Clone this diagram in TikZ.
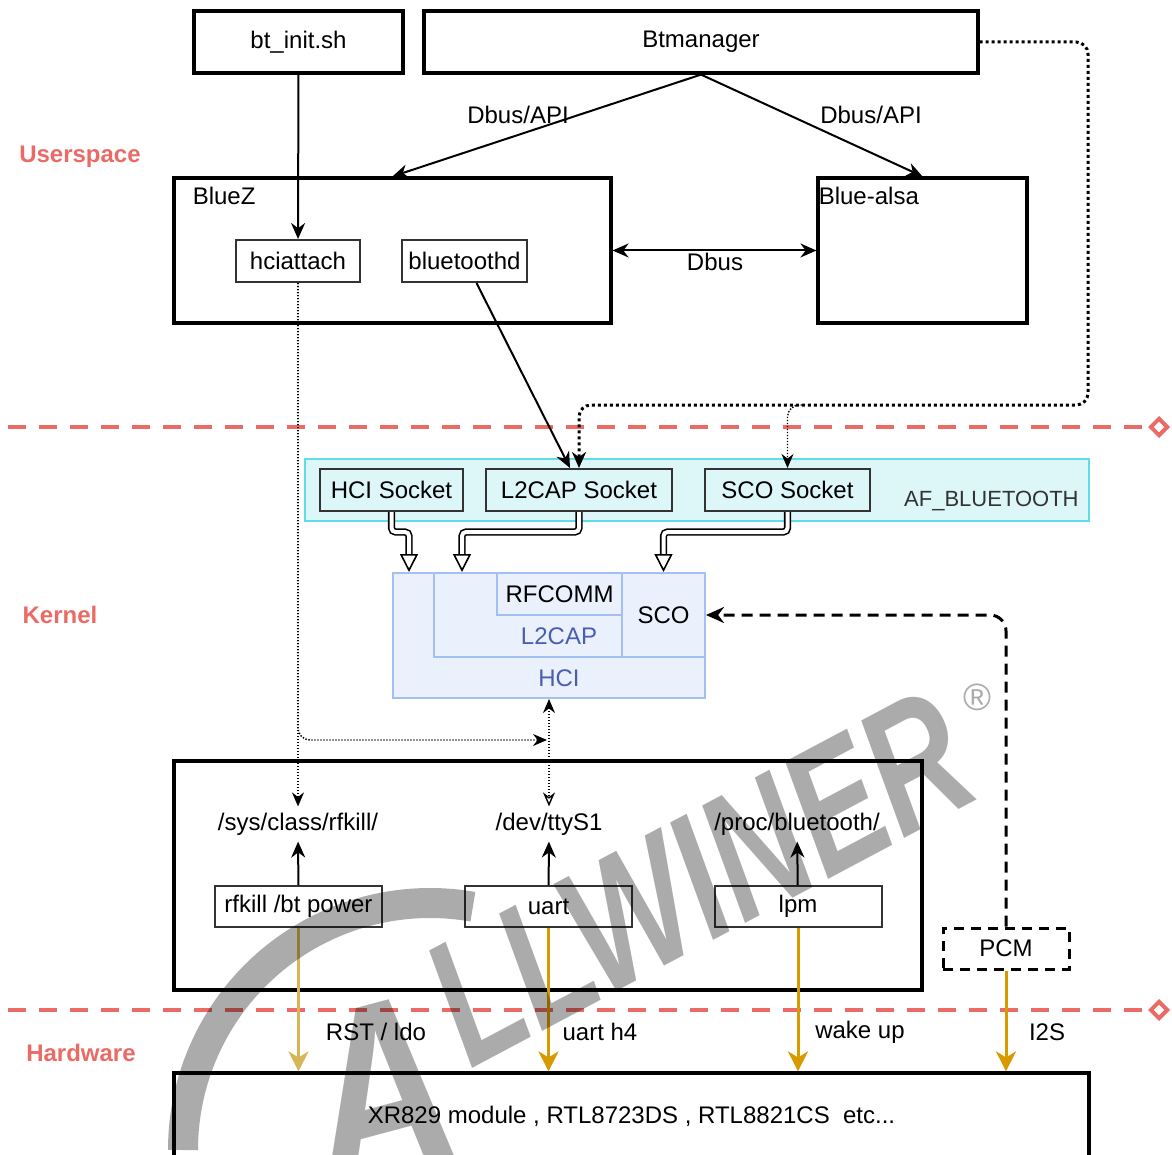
\documentclass[tikz,border=0pt]{standalone}
\usepackage{fontspec}
\setmainfont{Liberation Sans}
\usepackage{xcolor}
\usepackage{graphicx}
\usetikzlibrary{positioning,calc,arrows.meta}

\definecolor{sepred}{HTML}{EA6B66}
\definecolor{afcyan}{HTML}{DDF6F8}
\definecolor{afedge}{HTML}{5FDDE8}
\definecolor{hcifill}{HTML}{EAF1FD}
\definecolor{hciedge}{HTML}{A3C0F5}
\definecolor{hcitext}{HTML}{4A5EB0}
\definecolor{goldA}{HTML}{D6B656}
\definecolor{goldB}{HTML}{D79B00}
\definecolor{boxgray}{HTML}{333333}

\begin{document}
\begin{tikzpicture}[x=0.5pt, y=-0.5pt,
    every node/.style={font=\fontsize{12}{14}\selectfont},
    bigbox/.style={draw, line width=1.6pt, inner sep=0pt},
    inbox/.style={draw=boxgray, line width=1pt, inner sep=0pt, minimum height=21pt},
    sockbox/.style={inbox, fill=afcyan},
    stackbox/.style={draw=hciedge, fill=hcifill, line width=1pt, inner sep=0pt},
    lbl/.style={inner sep=1pt},
    zonelbl/.style={lbl, text=sepred, font=\fontsize{12}{14}\selectfont\bfseries},
    sepline/.style={sepred, line width=2pt, dash pattern=on 9pt off 6.5pt, -{Diamond[open, length=11pt, width=11pt]}},
    arr/.style={line width=1pt, -{Stealth[length=8pt, width=7pt]}},
    golden/.style={goldB, line width=1.5pt, -{Stealth[length=10pt, width=10pt, inset=3pt]}},
    dotbig/.style={line width=1.5pt, dash pattern=on 1.5pt off 1.5pt, rounded corners=6pt, -{Stealth[length=8pt, width=7pt]}},
    dotthin/.style={line width=0.7pt, dash pattern=on 0.7pt off 0.8pt, rounded corners=6pt, -{Stealth[length=7pt, width=6pt]}},
    dashpcm/.style={line width=1.5pt, dash pattern=on 5.5pt off 3.5pt, rounded corners=8pt, -{Stealth[length=9pt, width=8pt]}},
    dblarr/.style={double=white, double distance=2pt, line width=0.8pt, rounded corners=2pt, -{Triangle[open, length=9pt, width=9pt]}},
    wmark/.style={text=black, text opacity=0.33, inner sep=0pt}
]
    \useasboundingbox (0,0) rectangle (1172,1155);

    % layer borders
    \draw[sepline] (8,427) -- (1170,427);
    \draw[sepline] (8,1010) -- (1170,1010);
    \node[zonelbl] (user) at (80,157) {Userspace};
    \node[zonelbl] (kern) at (60,615) {Kernel};
    \node[zonelbl] (hard) at (81,1053) {Hardware};

    % userspace
    \node[bigbox, minimum width=104.5pt, minimum height=31pt] (init) at (298.5,42) {bt\_init.sh};
    \node[bigbox, minimum width=277pt, minimum height=31pt] (btm) at (701,42) {Btmanager};
    \node[bigbox, minimum width=218.5pt, minimum height=72.5pt] (bluez) at (392.5,250.5) {};
    \node[lbl, anchor=north west] (bluezlbl) at ([xshift=9pt, yshift=-4pt]bluez.north west) {BlueZ};
    \node[inbox, minimum width=62pt] (hciatt) at (298,261) {hciattach};
    \node[inbox, minimum width=62.5pt] (btd) at (464.5,261) {bluetoothd};
    \node[bigbox, minimum width=104.5pt, minimum height=72.5pt] (alsa) at (922.5,250.5) {};
    \node[lbl, anchor=north west] (alsalbl) at ([xshift=0pt, yshift=-4pt]alsa.north west) {Blue-alsa};

    \draw[arr] (init) -- (hciatt);
    \draw[arr] (btm.south) -- (bluez.north);
    \draw[arr] (btm.south) -- (alsa.north);
    \node[lbl] (api1) at (518,115) {Dbus/API};
    \node[lbl] (api2) at (871,115) {Dbus/API};
    \draw[arr, {Stealth[length=8pt, width=7pt]}-{Stealth[length=8pt, width=7pt]}] (bluez.east) -- (alsa.west);
    \node[lbl] (dbus) at (715,262) {Dbus};

    % sockets
    \node[draw=afedge, fill=afcyan, line width=1pt, inner sep=0pt, minimum width=392pt, minimum height=31pt] (af) at (697,490) {};
    \node[lbl, text=boxgray, font=\fontsize{11}{13}\selectfont, anchor=east] (aflbl) at ([xshift=-4.5pt, yshift=-5.5pt]af.east) {AF\_BLUETOOTH};
    \node[sockbox, minimum width=71.5pt] (hcis) at (391.5,490) {HCI Socket};
    \node[sockbox, minimum width=93pt] (l2s) at (579,490) {L2CAP Socket};
    \node[sockbox, minimum width=82.5pt] (scos) at (787.5,490) {SCO Socket};

    \draw[arr] ([xshift=6pt]btd.south) -- ([xshift=-4.5pt]l2s.north);
    \draw[dotbig] (btm.east) -| (1088,405) -| (l2s.north);
    \draw[dotthin] (805,405) -| (scos.north);

    % stack
    \node[stackbox, minimum width=156pt, minimum height=62.5pt] (hci) at (549,635.5) {};
    \node[stackbox, minimum width=94pt, minimum height=42pt] (l2cap) at (528,615) {};
    \node[stackbox, minimum width=41.5pt, minimum height=42pt] (sco) at (663.5,615) {SCO};
    \node[stackbox, minimum width=62.5pt, minimum height=21pt] (rfcomm) at (559.5,594) {RFCOMM};
    \node[lbl, text=hcitext] (l2caplbl) at (559,636) {L2CAP};
    \node[lbl, text=hcitext] (hcilbl) at (559,678) {HCI};

    \draw[dblarr] (hcis.south) -- ++(0,20) -| ([xshift=8.5pt]hci.north west);
    \draw[dblarr] (l2s.south) -- ++(0,20) -| ([xshift=35pt]hci.north west);
    \draw[dblarr] (scos.south) -- ++(0,20) -| (sco.north);

    % drivers
    \node[bigbox, minimum width=374pt, minimum height=114.5pt] (drv) at (548,875.5) {};
    \node[lbl, inner sep=3pt] (rfk) at (298,824) {/sys/class/rfkill/};
    \node[lbl, inner sep=3pt] (tty) at (549,824) {/dev/ttyS1};
    \node[lbl, inner sep=3pt] (proc) at (797,824) {/proc/bluetooth/};
    \node[inbox, minimum width=83.5pt, minimum height=20.5pt] (rfkb) at (298.5,906.5) {rfkill /bt power};
    \node[inbox, minimum width=83.5pt, minimum height=20.5pt] (uartb) at (548.5,906.5) {uart};
    \node[inbox, minimum width=83.5pt, minimum height=20.5pt] (lpmb) at (798,906.5) {lpm};
    \node[draw, line width=1.5pt, dash pattern=on 5pt off 3.5pt, inner sep=0pt, minimum width=63pt, minimum height=20.5pt] (pcm) at (1006,948.5) {PCM};

    \coordinate (ttyin) at (547,740);
    \draw[dotthin] (hciatt.south) -- (rfk.north);
    \draw[dotthin] (hciatt.south) |- (ttyin);
    \draw[dotthin, {Stealth[length=7pt, width=6pt]}-{Stealth[open, length=7pt, width=6pt]}] (tty.north |- hci.south) -- (tty.north);
    \draw[dashpcm] (pcm.north) |- (sco.east);
    \draw[arr] (rfkb) -- (rfk);
    \draw[arr] (uartb) -- (tty);
    \draw[arr] (lpmb) -- (proc);

    % hardware
    \node[bigbox, minimum width=457.5pt, minimum height=43pt] (hw) at (631.5,1116) {XR829 module , RTL8723DS , RTL8821CS\ \ etc...};
    \draw[golden, goldA] (rfkb.south) -- (rfkb.south |- hw.north);
    \draw[golden] (uartb.south) -- (uartb.south |- hw.north);
    \draw[golden] (lpmb.south) -- (lpmb.south |- hw.north);
    \draw[golden] (pcm.south) -- (pcm.south |- hw.north);
    \node[lbl] (rst) at (376,1032) {RST / ldo};
    \node[lbl] (uh4) at (600,1032) {uart h4};
    \node[lbl] (wake) at (860,1032) {wake up};
    \node[lbl] (i2s) at (1047,1032) {I2S};

    % watermark
    \draw[line width=15pt, draw=black, draw opacity=0.33] (183,1150) arc[start angle=180, end angle=80, radius=123.5pt];
    \node[wmark, rotate=15, anchor=base, font=\fontsize{125}{125}\selectfont\bfseries\itshape] (wma) at (400,1175) {\scalebox{0.8}[1]{A}};
    \node[wmark, rotate=28, anchor=base west, font=\fontsize{90}{90}\selectfont\bfseries\itshape] (wmb) at (470,1070) {\scalebox{0.72}[1]{LLWINER}};
    \node[wmark, inner sep=1pt, font=\fontsize{19}{19}\selectfont] (reg) at (977,697) {®};
\end{tikzpicture}
\end{document}
